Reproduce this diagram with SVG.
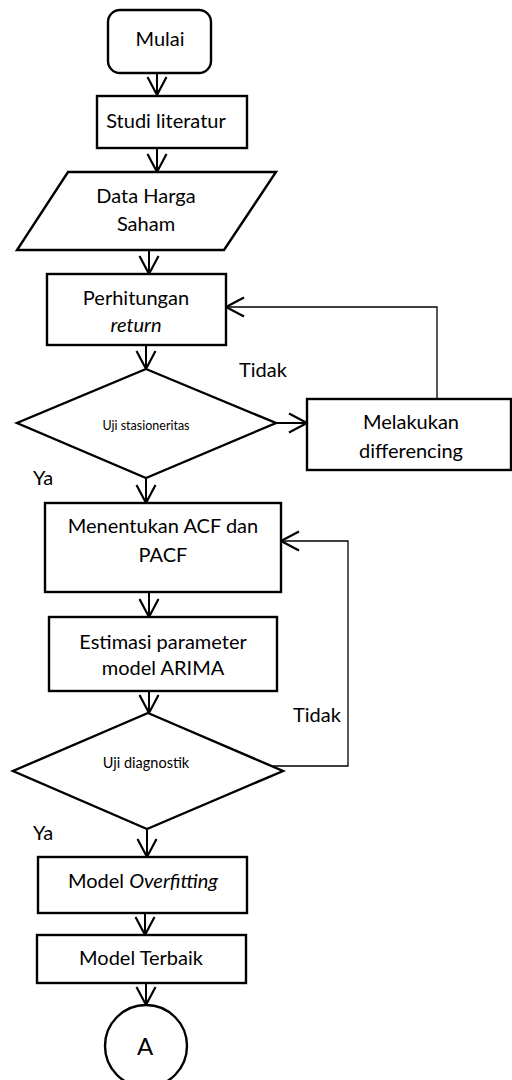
<svg xmlns="http://www.w3.org/2000/svg" width="512" height="1080" viewBox="0 0 512 1080">
<style>
.s{fill:#fff;stroke:#000;stroke-width:2.4}
.c{fill:none;stroke:#000;stroke-width:2}
.t{fill:none;stroke:#000;stroke-width:1.3}
text{font-family:Lato,"Open Sans",sans-serif;font-size:20px;fill:#000;text-anchor:middle}
.it{font-style:italic}
</style>
<defs>
<marker id="ah" markerUnits="userSpaceOnUse" markerWidth="24" markerHeight="24" viewBox="-20 -12 24 24" refX="0" refY="0" orient="auto" overflow="visible">
<path d="M-18,-9.5 L0,0 L-18,9.5" fill="none" stroke="#000" stroke-width="2.2"/>
</marker>
</defs>
<rect width="512" height="1080" fill="#fff"/>
<g id="connectors">
<line class="c" x1="157" y1="73" x2="157" y2="95" marker-end="url(#ah)"/>
<line class="c" x1="157" y1="148" x2="157" y2="172" marker-end="url(#ah)"/>
<line class="c" x1="149" y1="250" x2="149" y2="274" marker-end="url(#ah)"/>
<line class="c" x1="146" y1="345" x2="146" y2="369" marker-end="url(#ah)"/>
<line class="c" x1="276" y1="423" x2="307" y2="423" marker-end="url(#ah)"/>
<polyline class="t" points="437,399 437,307 226,307" marker-end="url(#ah)"/>
<line class="c" x1="146" y1="478" x2="146" y2="503" marker-end="url(#ah)"/>
<line class="c" x1="149" y1="592" x2="149" y2="617" marker-end="url(#ah)"/>
<line class="c" x1="149" y1="691" x2="149" y2="713" marker-end="url(#ah)"/>
<polyline class="t" points="273,766 348,766 348,541 281,541" marker-end="url(#ah)"/>
<line class="c" x1="147" y1="829" x2="147" y2="857" marker-end="url(#ah)"/>
<line class="c" x1="145" y1="913" x2="145" y2="935" marker-end="url(#ah)"/>
<line class="c" x1="146" y1="983" x2="146" y2="1005" marker-end="url(#ah)"/>
</g>
<g id="mulai">
<rect class="s" x="108" y="10" width="103" height="63" rx="12"/>
<text x="160" y="46">Mulai</text>
</g>
<g id="studi">
<rect class="s" x="97" y="96" width="150" height="52"/>
<text x="166" y="128">Studi literatur</text>
</g>
<g id="data">
<polygon class="s" points="68,172 276,172 224,250 17,250"/>
<text x="146" y="203">Data Harga</text>
<text x="146" y="231">Saham</text>
</g>
<g id="perhitungan">
<rect class="s" x="47" y="274" width="179" height="71"/>
<text x="136" y="305">Perhitungan</text>
<text x="136" y="332" class="it">return</text>
</g>
<g id="uji-stasioneritas">
<polygon class="s" points="146,369 276,423 146,478 17,423"/>
<text x="146" y="430" style="font-size:12.5px">Uji stasioneritas</text>
</g>
<g id="differencing">
<rect class="s" x="307" y="399" width="204" height="71"/>
<text x="411" y="429">Melakukan</text>
<text x="411" y="458">differencing</text>
</g>
<g id="acf">
<rect class="s" x="45" y="503" width="236" height="89"/>
<text x="163" y="533">Menentukan ACF dan</text>
<text x="163" y="562">PACF</text>
</g>
<g id="estimasi">
<rect class="s" x="49" y="617" width="228" height="74"/>
<text x="163" y="649">Estimasi parameter</text>
<text x="163" y="675">model ARIMA</text>
</g>
<g id="uji-diagnostik">
<polygon class="s" points="148,713 283,771 147,829 13,771"/>
<text x="146" y="768" style="font-size:14.5px">Uji diagnostik</text>
</g>
<g id="overfitting">
<rect class="s" x="38" y="857" width="209" height="56"/>
<text x="143" y="888">Model <tspan class="it">Overfitting</tspan></text>
</g>
<g id="terbaik">
<rect class="s" x="37" y="935" width="209" height="48"/>
<text x="141" y="965">Model Terbaik</text>
</g>
<g id="a">
<circle class="s" cx="146" cy="1046" r="41"/>
<text x="145" y="1055" style="font-size:24px">A</text>
</g>
<g id="labels">
<text x="263" y="377">Tidak</text>
<text x="43" y="485">Ya</text>
<text x="317" y="722">Tidak</text>
<text x="43" y="840">Ya</text>
</g>
</svg>
